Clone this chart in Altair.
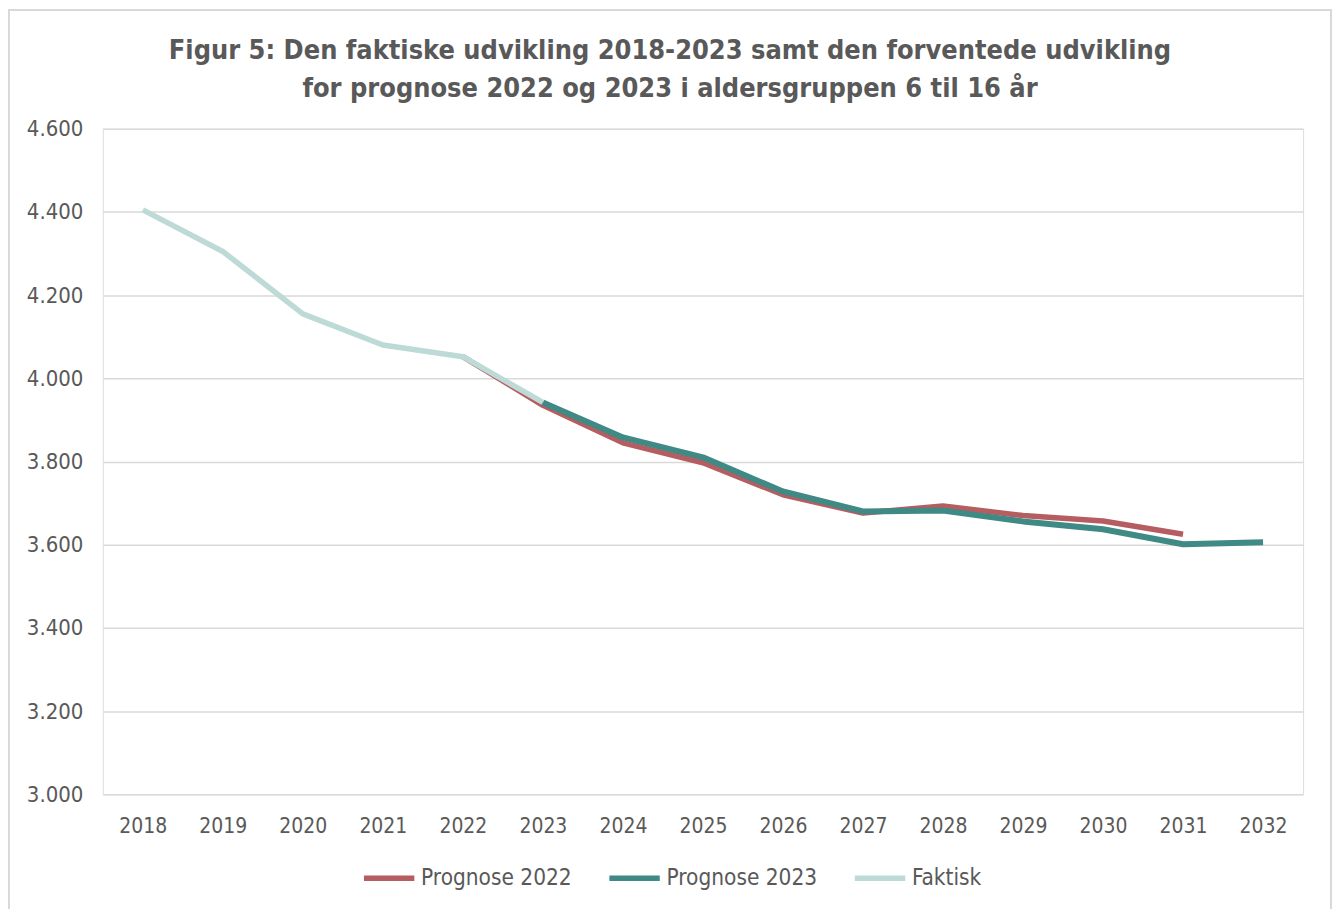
import altair as alt
import pandas as pd

years = list(range(2018, 2033))

faktisk_years = [2018, 2019, 2020, 2021, 2022, 2023]
faktisk_vals = [4405, 4305, 4155, 4080, 4052, 3942]

p22_years = [2022, 2023, 2024, 2025, 2026, 2027, 2028, 2029, 2030, 2031]
p22_vals = [4052, 3935, 3845, 3797, 3720, 3676, 3693, 3670, 3657, 3625]

p23_years = [2023, 2024, 2025, 2026, 2027, 2028, 2029, 2030, 2031, 2032]
p23_vals = [3942, 3858, 3810, 3728, 3680, 3682, 3656, 3637, 3601, 3606]

series_names = ["Prognose 2022", "Prognose 2023", "Faktisk"]
series_colors = ["#B55D60", "#3F8A85", "#BDDAD7"]

title_lines = [
    "Figur 5: Den faktiske udvikling 2018-2023 samt den forventede udvikling",
    "for prognose 2022 og 2023 i aldersgruppen 6 til 16 år",
]

rows = []
for y, v in zip(p22_years, p22_vals):
    rows.append({"year": y, "value": v, "series": "Prognose 2022"})
for y, v in zip(p23_years, p23_vals):
    rows.append({"year": y, "value": v, "series": "Prognose 2023"})
for y, v in zip(faktisk_years, faktisk_vals):
    rows.append({"year": y, "value": v, "series": "Faktisk"})
df = pd.DataFrame(rows)

FONT = "DejaVu Sans Condensed"
TXT = "#595959"

x_enc = alt.X(
    "year:O",
    scale=alt.Scale(type="point", padding=0.5, domain=years),
    axis=alt.Axis(
        title=None, labelAngle=0, domain=False, ticks=False, grid=False,
        labelPadding=21, labelFontSize=21, labelColor=TXT, labelFont=FONT,
    ),
)
y_enc = alt.Y(
    "value:Q",
    scale=alt.Scale(domain=[3000, 4600], nice=False, zero=False),
    axis=alt.Axis(
        title=None, values=list(range(3000, 4601, 200)),
        labelExpr="replace(format(datum.value, ',.0f'), ',', '.')",
        grid=True, gridColor="#D9D9D9", gridWidth=1.5,
        domain=False, ticks=False, labelPadding=20,
        labelFontSize=22, labelColor=TXT, labelFont=FONT,
    ),
)
color_enc = alt.Color(
    "series:N",
    scale=alt.Scale(domain=series_names, range=series_colors),
    legend=alt.Legend(
        title=None, orient="none", legendX=259, legendY=723,
        direction="horizontal", symbolType="stroke", symbolSize=2550,
        symbolStrokeWidth=5.5, labelFontSize=22.5, labelColor=TXT, labelFont=FONT,
        labelOffset=4, columnPadding=25,
    ),
)

base = alt.Chart(df)
layers = []
widths = {"Prognose 2022": 5.5, "Prognose 2023": 6, "Faktisk": 5.5}
for s in series_names:
    layers.append(
        base.transform_filter(alt.datum.series == s)
        .mark_line(strokeWidth=widths[s], strokeJoin="round")
        .encode(x=x_enc, y=y_enc, color=color_enc)
    )

frame = alt.Chart(pd.DataFrame({"a": [0]})).mark_rect(
    fillOpacity=0, stroke="#D9D9D9", strokeWidth=2, clip=False
).encode(
    x=alt.value(-94), x2=alt.value(1231), y=alt.value(-119), y2=alt.value(800)
)

chart = alt.layer(frame, *layers).properties(
    width=1203,
    height=667,
    padding={"left": 95, "top": 120, "right": 29, "bottom": 130},
    autosize=alt.AutoSizeParams(type="none"),
    title=alt.TitleParams(
        text=title_lines, fontSize=27, font=FONT, fontWeight="bold",
        color=TXT, lineHeight=38, anchor="middle", dx=-33, offset=-94,
    ),
).configure_view(stroke=None).configure(background="white")

chart.save("out.html", embed_options={"renderer": "svg", "actions": False})
